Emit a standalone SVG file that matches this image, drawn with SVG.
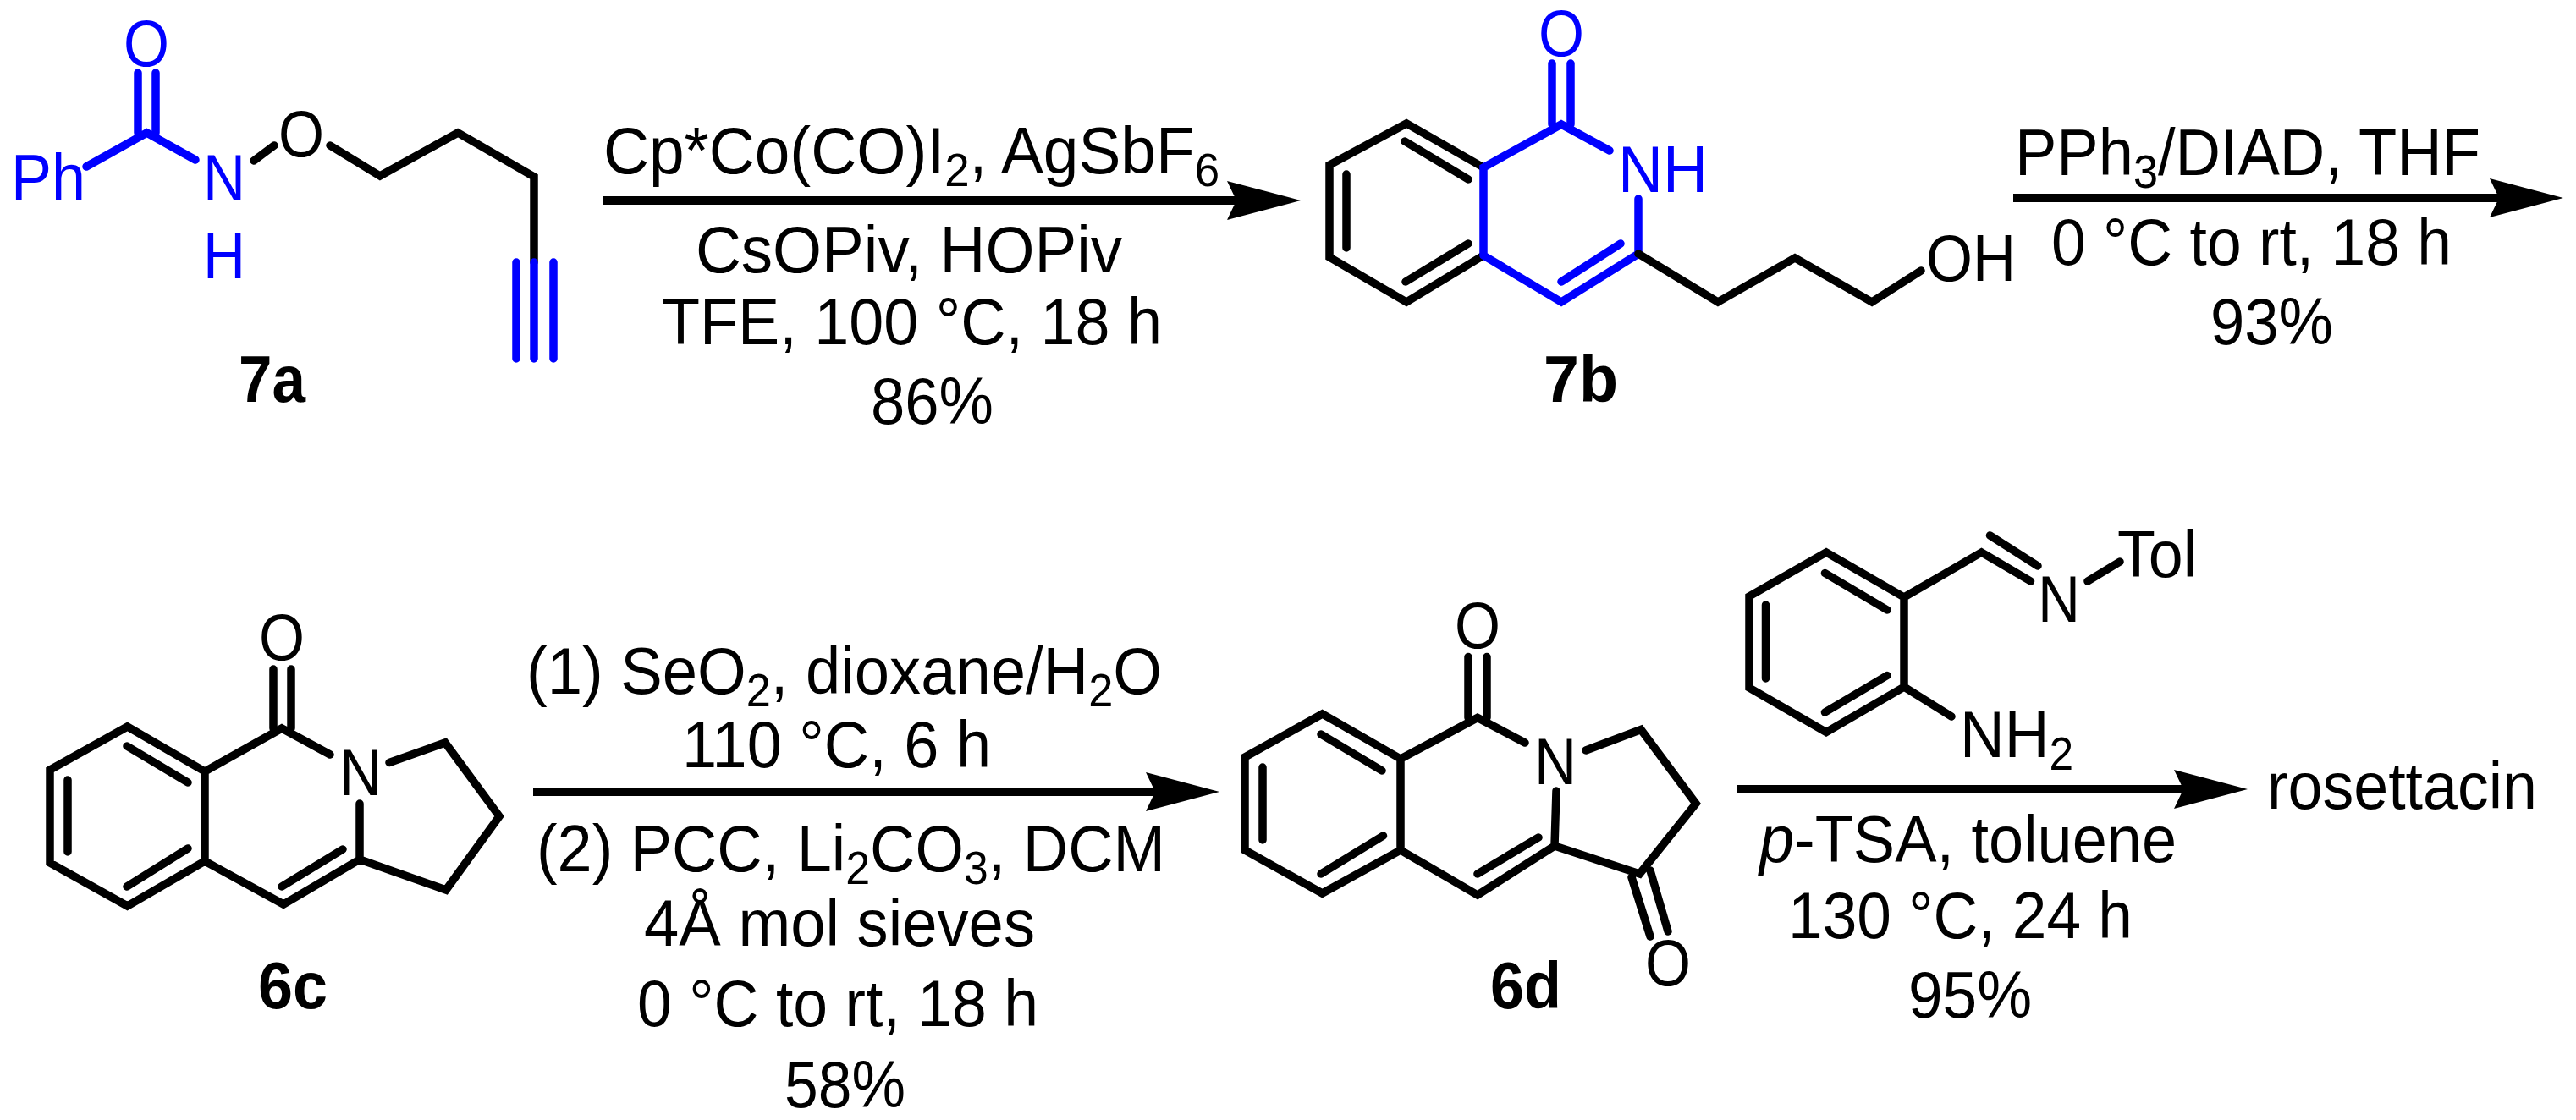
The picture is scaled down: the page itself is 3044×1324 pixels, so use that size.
<svg xmlns="http://www.w3.org/2000/svg" width="3044" height="1324" viewBox="0 0 3044 1324">
<style>
text{font-family:"Liberation Sans",Arial,sans-serif;font-size:78px;fill:#000}
.b{font-weight:bold}
.blue{fill:#0000ff}
.bond{fill:none;stroke:#000;stroke-width:9.5;stroke-linecap:round;stroke-linejoin:miter}
.bb{stroke:#0000ff}
.arrow{stroke:#000;stroke-width:10;fill:none;marker-end:url(#head)}
.sub{font-size:55px}
</style>
<defs>
<marker id="head" markerUnits="userSpaceOnUse" markerWidth="87" markerHeight="46" refX="11" refY="23" orient="auto" viewBox="0 0 87 46">
<path d="M87,23 L0,0 L11,23 L0,46 Z" fill="#000"/>
</marker>
</defs>
<rect width="3044" height="1324" fill="#fff"/>

<g id="connectors">
<line class="arrow" x1="713" y1="237" x2="1461" y2="237"/>
<line class="arrow" x1="2379" y1="234" x2="2953" y2="234"/>
<line class="arrow" x1="630" y1="936" x2="1365" y2="936"/>
<line class="arrow" x1="2052" y1="933" x2="2580" y2="933"/>
</g>

<g id="mol-7a">
<path class="bond bb" d="M102,197L173.5,157L231,189M163,86V157M184,86V157"/>
<path class="bond" d="M300,190L324,172M390,172L449,208L541,157L631,209V310"/>
<path class="bond bb" d="M610,310V424M631,310V424M654,310V424"/>
<text class="blue" x="146" y="78" textLength="54" lengthAdjust="spacingAndGlyphs">O</text>
<text class="blue" x="13" y="237" textLength="88" lengthAdjust="spacingAndGlyphs">Ph</text>
<text class="blue" x="240" y="237" textLength="50" lengthAdjust="spacingAndGlyphs">N</text>
<text class="blue" x="240" y="329" textLength="50" lengthAdjust="spacingAndGlyphs">H</text>
<text x="329" y="185" textLength="54" lengthAdjust="spacingAndGlyphs">O</text>
<text class="b" x="282" y="475" textLength="79" lengthAdjust="spacingAndGlyphs">7a</text>
</g>

<g id="conditions-1">
<text x="713" y="205" textLength="728" lengthAdjust="spacingAndGlyphs">Cp*Co(CO)I<tspan class="sub" dy="15">2</tspan><tspan dy="-15">, AgSbF</tspan><tspan class="sub" dy="15">6</tspan></text>
<text x="822" y="322" textLength="504" lengthAdjust="spacingAndGlyphs">CsOPiv, HOPiv</text>
<text x="782" y="407" textLength="591" lengthAdjust="spacingAndGlyphs">TFE, 100 °C, 18 h</text>
<text x="1029" y="501" textLength="145" lengthAdjust="spacingAndGlyphs">86%</text>
</g>

<g id="mol-7b">
<path class="bond" d="M1753,198L1662,146L1571,195V304L1662,357L1753,302M1660,167L1735,212M1591,206V293M1735,288L1661,333"/>
<path class="bond bb" d="M1753,302V198L1845,147L1902,178M1834,75V147M1856,75V147M1936,235V300L1845,357L1753,302M1915,288L1845,333"/>
<path class="bond" d="M1936,300L2030,357L2121,305L2212,357L2270,320"/>
<text class="blue" x="1818" y="66" textLength="54" lengthAdjust="spacingAndGlyphs">O</text>
<text class="blue" x="1912" y="227" textLength="106" lengthAdjust="spacingAndGlyphs">NH</text>
<text x="2276" y="332" textLength="106" lengthAdjust="spacingAndGlyphs">OH</text>
<text class="b" x="1824" y="475" textLength="88" lengthAdjust="spacingAndGlyphs">7b</text>
</g>

<g id="conditions-2">
<text x="2381" y="207" textLength="550" lengthAdjust="spacingAndGlyphs">PPh<tspan class="sub" dy="15">3</tspan><tspan dy="-15">/DIAD, THF</tspan></text>
<text x="2424" y="313" textLength="473" lengthAdjust="spacingAndGlyphs">0 °C to rt, 18 h</text>
<text x="2612" y="407" textLength="145" lengthAdjust="spacingAndGlyphs">93%</text>
</g>

<g id="mol-6c">
<path class="bond" d="M242,912L150.5,859L59,910V1020L150.5,1071L242,1018V912L333,861L390,892M150,882L222,925M80,922V1007M150,1048L222,1003M323,791V861M344,791V861M425,950V1016L335,1069L242,1018M405,1004L333,1048M460,901.5L526,878L590,965L527,1052L425,1016"/>
<text x="306" y="780" textLength="54" lengthAdjust="spacingAndGlyphs">O</text>
<text x="401" y="940" textLength="50" lengthAdjust="spacingAndGlyphs">N</text>
<text class="b" x="305" y="1192" textLength="82" lengthAdjust="spacingAndGlyphs">6c</text>
</g>

<g id="conditions-3">
<text x="622" y="820" textLength="751" lengthAdjust="spacingAndGlyphs">(1) SeO<tspan class="sub" dy="15">2</tspan><tspan dy="-15">, dioxane/H</tspan><tspan class="sub" dy="15">2</tspan><tspan dy="-15">O</tspan></text>
<text x="806" y="907" textLength="365" lengthAdjust="spacingAndGlyphs">110 °C, 6 h</text>
<text x="634" y="1030" textLength="743" lengthAdjust="spacingAndGlyphs">(2) PCC, Li<tspan class="sub" dy="15">2</tspan><tspan dy="-15">CO</tspan><tspan class="sub" dy="15">3</tspan><tspan dy="-15">, DCM</tspan></text>
<text x="761" y="1118" textLength="462" lengthAdjust="spacingAndGlyphs">4Å mol sieves</text>
<text x="753" y="1213" textLength="474" lengthAdjust="spacingAndGlyphs">0 °C to rt, 18 h</text>
<text x="927" y="1309" textLength="143" lengthAdjust="spacingAndGlyphs">58%</text>
</g>

<g id="mol-6d">
<path class="bond" d="M1655,897L1562.5,844L1471,895V1005L1562.5,1056L1655,1005V897L1746,848.5L1802,878M1561,868L1633,911M1492,907V993M1561,1033L1634.5,988M1735,776.5V848.5M1757,776.5V848.5M1839,935L1837,1000L1746,1058L1655,1005M1818,990L1746,1033M1874,887L1939,862.5L2004,950L1937.5,1033L1837,1000M1928,1037L1950,1107M1950,1029L1971,1101"/>
<text x="1719" y="766" textLength="54" lengthAdjust="spacingAndGlyphs">O</text>
<text x="1813" y="927" textLength="50" lengthAdjust="spacingAndGlyphs">N</text>
<text x="1944" y="1165" textLength="54" lengthAdjust="spacingAndGlyphs">O</text>
<text class="b" x="1761" y="1192" textLength="84" lengthAdjust="spacingAndGlyphs">6d</text>
</g>

<g id="reagent-imine">
<path class="bond" d="M2250,706L2158,653L2067,705V813L2158,865.5L2250,812V706L2341.5,653L2399.5,687M2156.5,677.5L2230,721M2086.5,715V802M2156.5,842L2230,798.5M2351.5,633L2408,669M2467,687L2505,664M2250,812L2306,847"/>
<text x="2408" y="735" textLength="50" lengthAdjust="spacingAndGlyphs">N</text>
<text x="2502" y="682" textLength="94" lengthAdjust="spacingAndGlyphs">Tol</text>
<text x="2316" y="895" textLength="134" lengthAdjust="spacingAndGlyphs">NH<tspan class="sub" dy="15">2</tspan></text>
</g>

<g id="conditions-4">
<text x="2079" y="1019" textLength="493" lengthAdjust="spacingAndGlyphs"><tspan font-style="italic">p</tspan>-TSA, toluene</text>
<text x="2113" y="1109" textLength="407" lengthAdjust="spacingAndGlyphs">130 °C, 24 h</text>
<text x="2255" y="1203" textLength="146" lengthAdjust="spacingAndGlyphs">95%</text>
</g>

<g id="product">
<text x="2679" y="956" textLength="319" lengthAdjust="spacingAndGlyphs">rosettacin</text>
</g>
</svg>
